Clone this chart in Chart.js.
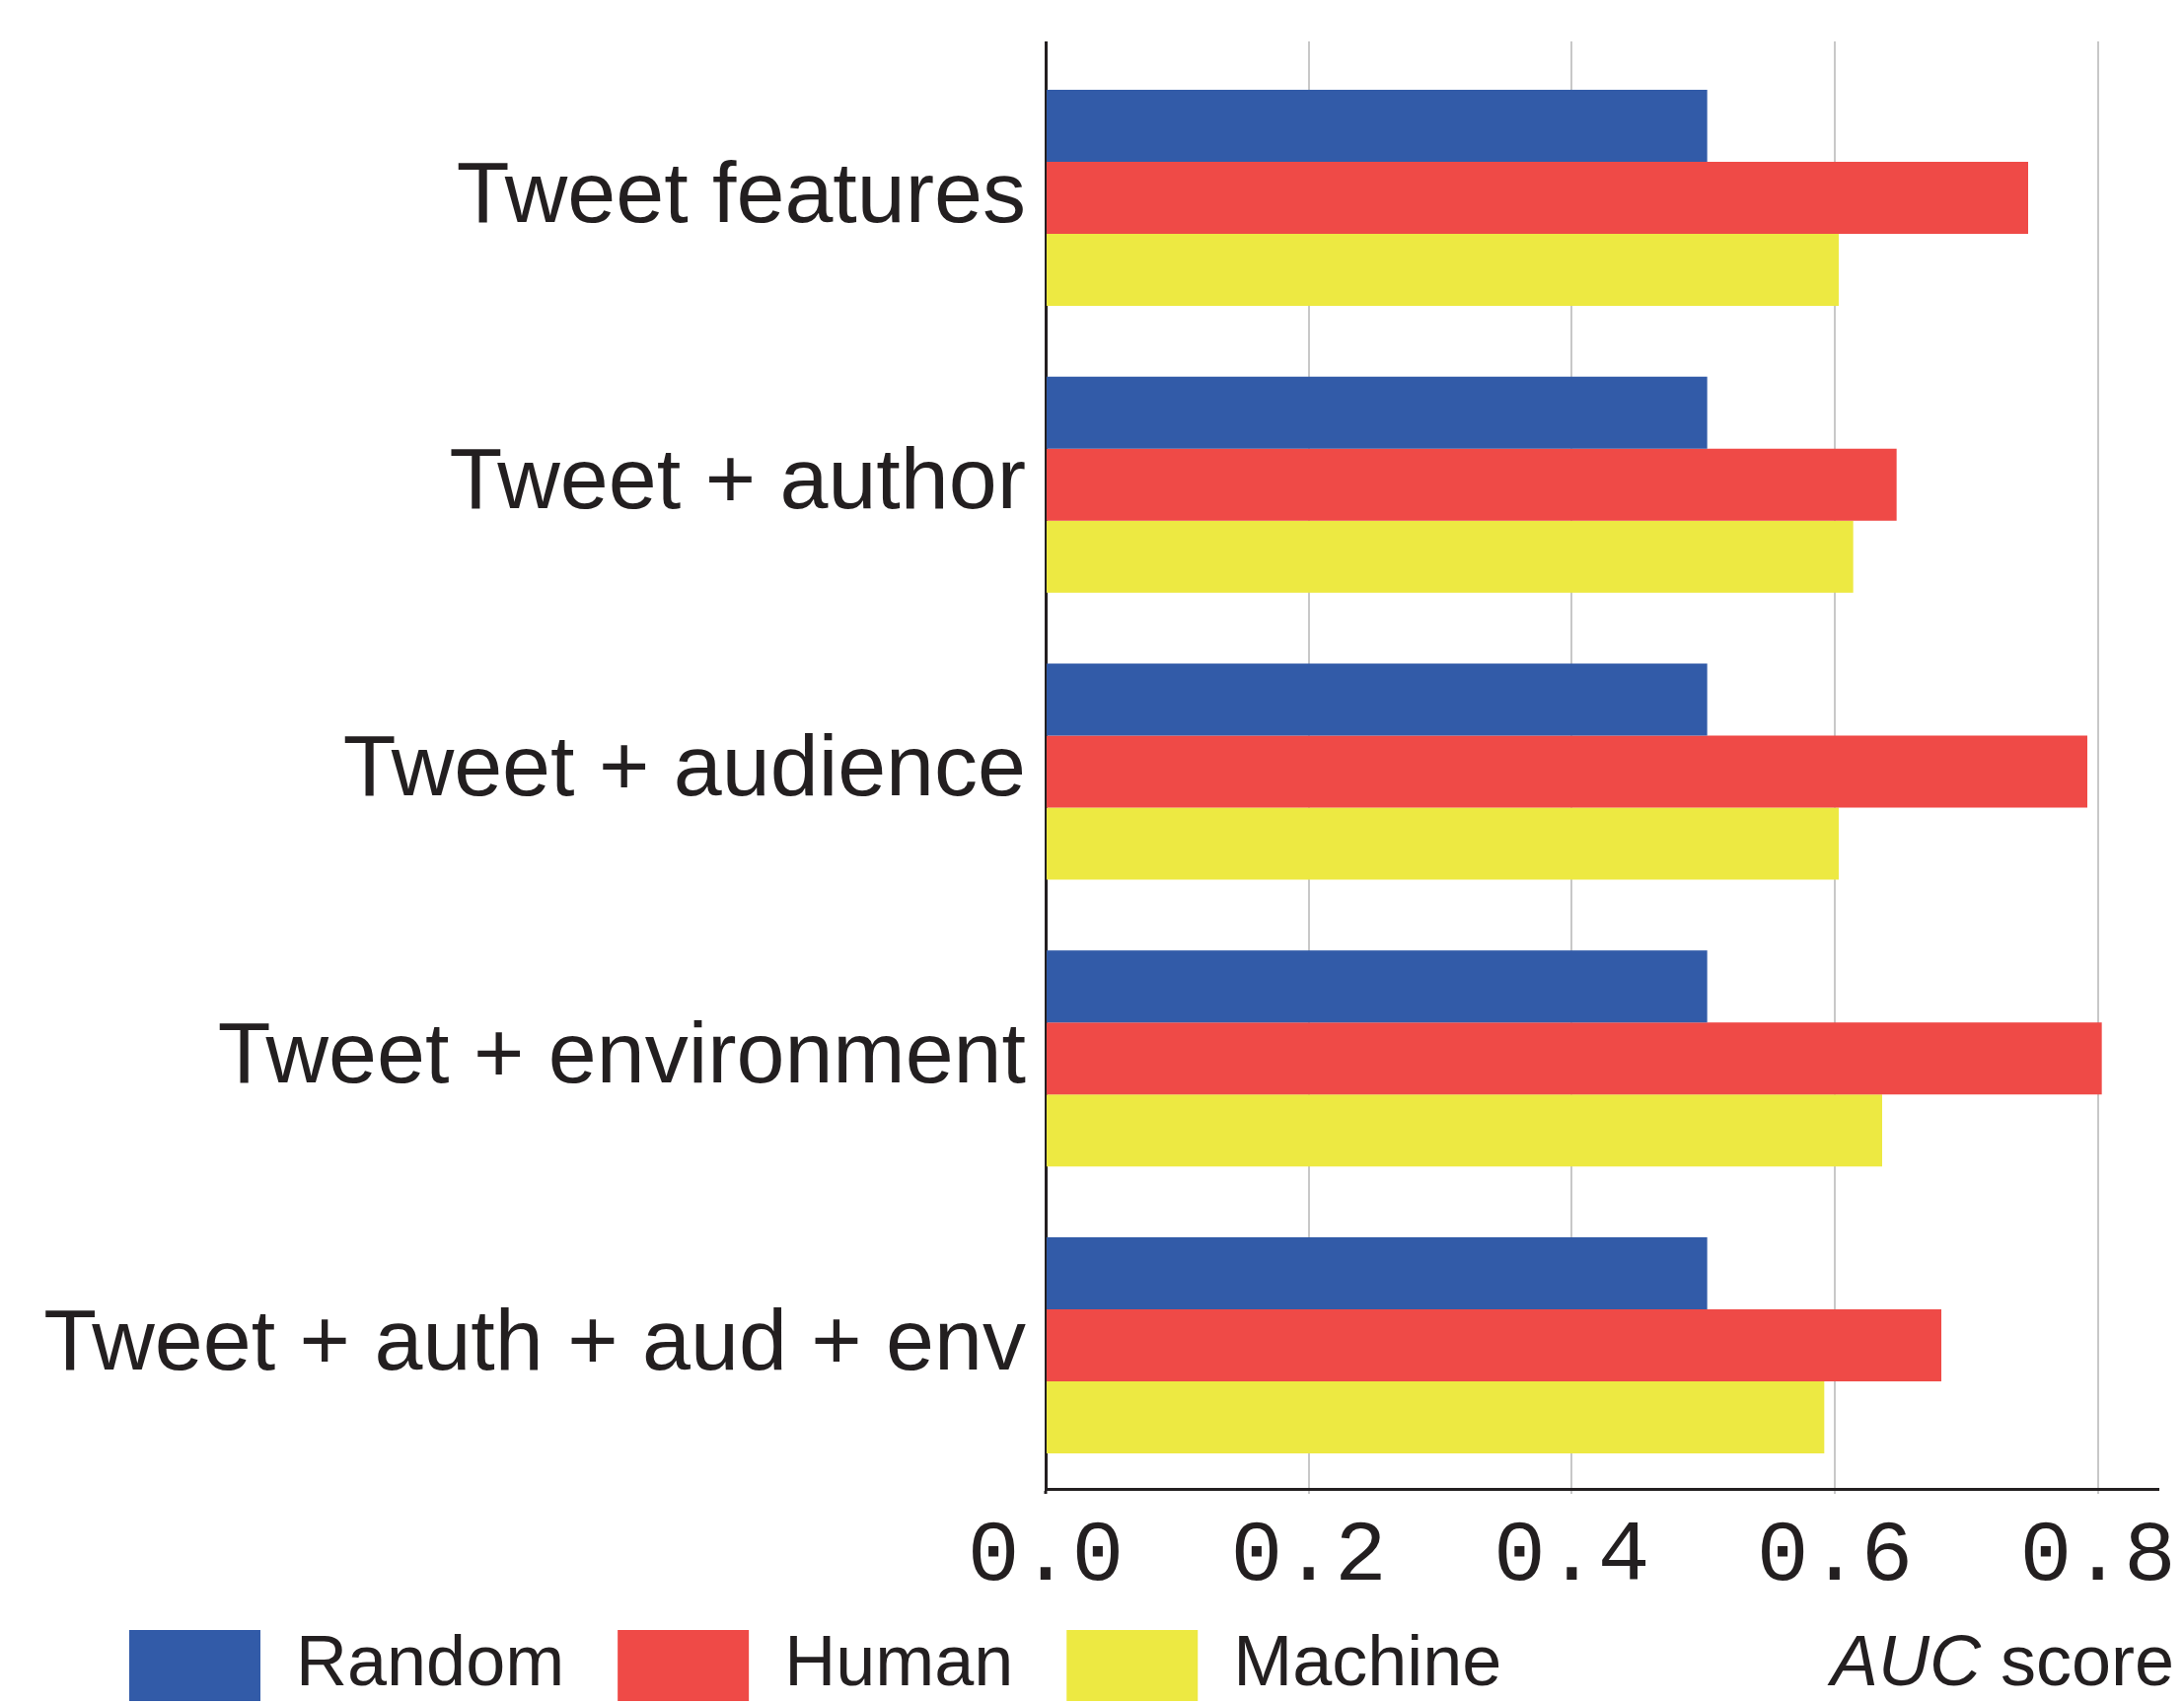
<!DOCTYPE html>
<html><head><meta charset="utf-8">
<script src="https://cdn.jsdelivr.net/npm/chart.js@4"></script>
<style>html,body{margin:0;padding:0;background:#fff}#wrap{width:2214px;height:1727px}</style>
</head><body><div id="wrap"><canvas id="c" width="2214" height="1727"></canvas></div>
<script>
const categories = ['Tweet features', 'Tweet + author', 'Tweet + audience', 'Tweet + environment', 'Tweet + auth + aud + env'];
const seriesNames = ['Random', 'Human', 'Machine'];
const randomScores = [0.503, 0.503, 0.503, 0.503, 0.503];
const humanScores = [0.747, 0.647, 0.792, 0.803, 0.681];
const machineScores = [0.603, 0.614, 0.603, 0.636, 0.592];
const tickValues = [0, 0.2, 0.4, 0.6, 0.8];
const tickLabels = ['0.0', '0.2', '0.4', '0.6', '0.8'];
const axisMax = 0.846;
const axisTitleParts = ['AUC', ' score'];

const INK = '#231f20';
const GRID = '#c8c8c8';
const colors = ['#325ba8', '#ef4a47', '#ede942'];

Chart.defaults.font.family = '"Liberation Sans", Arial, sans-serif';

const setTicks = s => { s.ticks = tickValues.map(v => ({value: v})); };
const isZero = c => c.tick && c.tick.value === 0;

// widen the label clip areas so long labels are not cut
const labelRoom = {
  id: 'labelRoom',
  afterLayout(chart) {
    chart.scales.y.left = 0;
    chart.scales.x.bottom = chart.height;
  }
};

const aucLabel = {
  id: 'aucLabel',
  afterDraw(chart) {
    const hb = chart.legend.legendHitBoxes[0];
    if (!hb) return;
    const yMid = hb.top + hb.height / 2;
    const ctx = chart.ctx;
    const right = chart.chartArea.right + 16;
    ctx.save();
    ctx.textBaseline = 'middle';
    ctx.textAlign = 'right';
    ctx.fillStyle = INK;
    ctx.font = '72px "Liberation Sans"';
    const w2 = ctx.measureText(axisTitleParts[1]).width;
    ctx.fillText(axisTitleParts[1], right, yMid);
    ctx.font = 'italic 72px "Liberation Sans"';
    ctx.fillText(axisTitleParts[0], right - w2, yMid);
    ctx.restore();
  }
};

const seriesValues = [randomScores, humanScores, machineScores];

new Chart(document.getElementById('c'), {
  type: 'bar',
  data: {
    labels: categories,
    datasets: seriesNames.map((name, i) => ({
      label: name,
      data: seriesValues[i],
      backgroundColor: colors[i],
      borderWidth: 0,
      barPercentage: 1.0,
      categoryPercentage: 0.753,
      xAxisID: 'x',
      yAxisID: 'y'
    }))
  },
  options: {
    indexAxis: 'y',
    responsive: false,
    animation: false,
    devicePixelRatio: 1,
    layout: {padding: {top: 42, left: 77, right: 26, bottom: 0}},
    plugins: {
      tooltip: {enabled: false},
      legend: {
        position: 'bottom',
        align: 'start',
        maxHeight: 129,
        labels: {
          boxWidth: 133,
          boxHeight: 72,
          padding: 54,
          color: INK,
          font: {size: 72, family: '"Liberation Sans"'}
        }
      }
    },
    scales: {
      x: {
        type: 'linear',
        position: 'bottom',
        min: 0,
        max: axisMax,
        afterBuildTicks: setTicks,
        afterFit: s => { s.height = 89; },
        ticks: {
          callback: (v, i) => tickLabels[i],
          color: INK,
          padding: 0,
          maxRotation: 0,
          autoSkip: false,
          font: {family: '"Liberation Mono", monospace', size: 88, lineHeight: 1.455}
        },
        grid: {
          color: GRID,
          lineWidth: 2,
          tickLength: 5,
          tickColor: c => isZero(c) ? INK : GRID,
          tickWidth: c => isZero(c) ? 3 : 2
        },
        border: {display: true, color: INK, width: 3}
      },
      xTop: {
        type: 'linear',
        position: 'top',
        min: 0,
        max: axisMax,
        afterBuildTicks: setTicks,
        ticks: {display: false},
        grid: {
          drawOnChartArea: false,
          drawTicks: true,
          tickLength: 13,
          color: c => isZero(c) ? INK : GRID,
          lineWidth: c => isZero(c) ? 3 : 2
        },
        border: {display: false}
      },
      y: {
        type: 'category',
        position: 'left',
        afterFit: s => { s.width = 983; },
        grid: {display: false, drawTicks: false},
        border: {display: true, color: INK, width: 3},
        ticks: {
          color: INK,
          padding: 20,
          autoSkip: false,
          font: {size: 88, family: '"Liberation Sans"', lineHeight: 0.5}
        }
      }
    }
  },
  plugins: [labelRoom, aucLabel]
});
</script>
</body></html>
